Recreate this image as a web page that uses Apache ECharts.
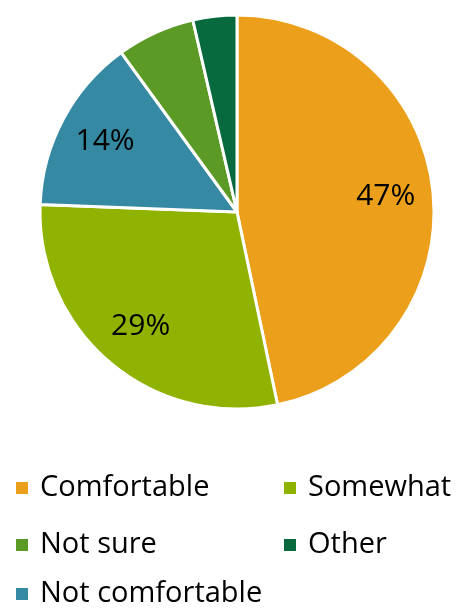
<!DOCTYPE html>
<html><head><meta charset="utf-8">
<script src="https://cdn.jsdelivr.net/npm/echarts@6/dist/echarts.min.js"></script>
<style>html,body{margin:0;padding:0;background:#fff}#c{width:458px;height:614px}</style>
</head><body><div id="c"></div>
<script>
const categories = ['Comfortable', 'Somewhat', 'Not comfortable', 'Not sure', 'Other'];
const values = [46.7, 28.9, 14.4, 6.4, 3.6];
const labels = ['47%', '29%', '14%', '', ''];
const colors = ['#EC9F1A', '#8FB300', '#3589A3', '#5B9A24', '#066A3E'];

const FONT = 'Open Sans';
const data = categories.map((c, i) => ({ name: c, value: values[i], itemStyle: { color: colors[i] } }));
const labelData = categories.map((c, i) => ({ name: c, value: values[i], label: { formatter: labels[i] } }));

function mkLegend(name, left, top) {
  return {
    data: [name], left: left, top: top, padding: 0, orient: 'horizontal',
    icon: 'rect', itemWidth: 14, itemHeight: 14,
    textStyle: { fontFamily: FONT, fontSize: 29, color: '#000', lineHeight: 30, padding: [0, 0, 0, 6] },
    selectedMode: false
  };
}

const chart = echarts.init(document.getElementById('c'), null, { renderer: 'canvas' });
chart.setOption({
  animation: false,
  legend: [
    mkLegend('Comfortable', 14, 473),
    mkLegend('Somewhat', 282, 473),
    mkLegend('Not sure', 14, 530),
    mkLegend('Other', 282, 530),
    mkLegend('Not comfortable', 14, 579)
  ],
  series: [
    {
      type: 'pie', center: [237, 212], radius: [0, 197], startAngle: 90, clockwise: true,
      itemStyle: { borderColor: '#fff', borderWidth: 3 },
      label: { show: false }, labelLine: { show: false },
      emphasis: { disabled: true },
      data: data
    },
    {
      type: 'pie', center: [237, 212], radius: [96, 197], startAngle: 90, clockwise: true,
      silent: true, legendHoverLink: false,
      itemStyle: { color: 'rgba(0,0,0,0)', borderWidth: 0 },
      label: { show: true, position: 'inside', fontFamily: FONT, fontSize: 30, color: '#000' },
      labelLine: { show: false },
      emphasis: { disabled: true },
      data: labelData
    }
  ]
});
</script></body></html>
